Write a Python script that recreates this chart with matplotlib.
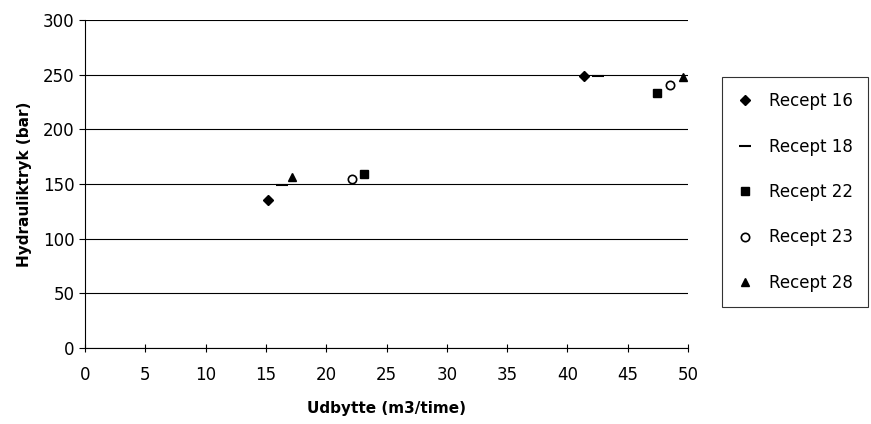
import matplotlib
matplotlib.use("Agg")
import matplotlib.pyplot as plt

plt.rcParams['font.family'] = ['DejaVu Sans']

labels = ["Recept 16", "Recept 18", "Recept 22", "Recept 23", "Recept 28"]
markers = ["D", "_", "s", "o", "^"]
x_vals = [
    [15.2, 41.4],
    [16.3, 42.5],
    [23.1, 47.4],
    [22.1, 48.5],
    [17.2, 49.6],
]
y_vals = [
    [135, 249],
    [149, 249],
    [159, 233],
    [155, 241],
    [156, 248],
]

fig = plt.figure(figsize=(8.71, 4.24), dpi=100)
ax = fig.add_axes([85/871, 1 - 348/424, (688-85)/871, (348-20)/424])

for lab, m, xs, ys in zip(labels, markers, x_vals, y_vals):
    kw = dict(color='black', linestyle='none', marker=m, label=lab)
    if m == "o":
        kw.update(markerfacecolor='white', markeredgewidth=1.2, markersize=6)
    elif m == "D":
        kw.update(markersize=5)
    elif m == "_":
        kw.update(markersize=8, markeredgewidth=1.5)
    else:
        kw.update(markersize=6)
    ax.plot(xs, ys, **kw)

ax.set_xlim(0, 50)
ax.set_ylim(0, 300)
ax.set_xticks(range(0, 51, 5))
ax.set_yticks(range(0, 301, 50))
ax.yaxis.grid(True, color='black', linewidth=0.8)
ax.set_axisbelow(True)
for s in ['top', 'right']:
    ax.spines[s].set_visible(False)
ax.spines['left'].set_linewidth(0.8)
ax.spines['bottom'].set_linewidth(0.8)
ax.tick_params(axis='both', labelsize=12, length=4, width=0.8)
ax.tick_params(axis='x', direction='inout', length=6, pad=10)

ax.set_xlabel("Udbytte (m3/time)", fontsize=11, fontweight='bold', labelpad=12)
ax.set_ylabel("Hydrauliktryk (bar)", fontsize=11, fontweight='bold', labelpad=8)

leg = fig.legend(loc='upper left', bbox_to_anchor=(722/871, 1 - 77/424),
                 frameon=True, fancybox=False, edgecolor='black',
                 fontsize=12, labelspacing=1.65, handlelength=1.0,
                 borderpad=0.9, handletextpad=0.9, borderaxespad=0)
leg.get_frame().set_linewidth(0.8)

fig.savefig("out.png", dpi=100)
